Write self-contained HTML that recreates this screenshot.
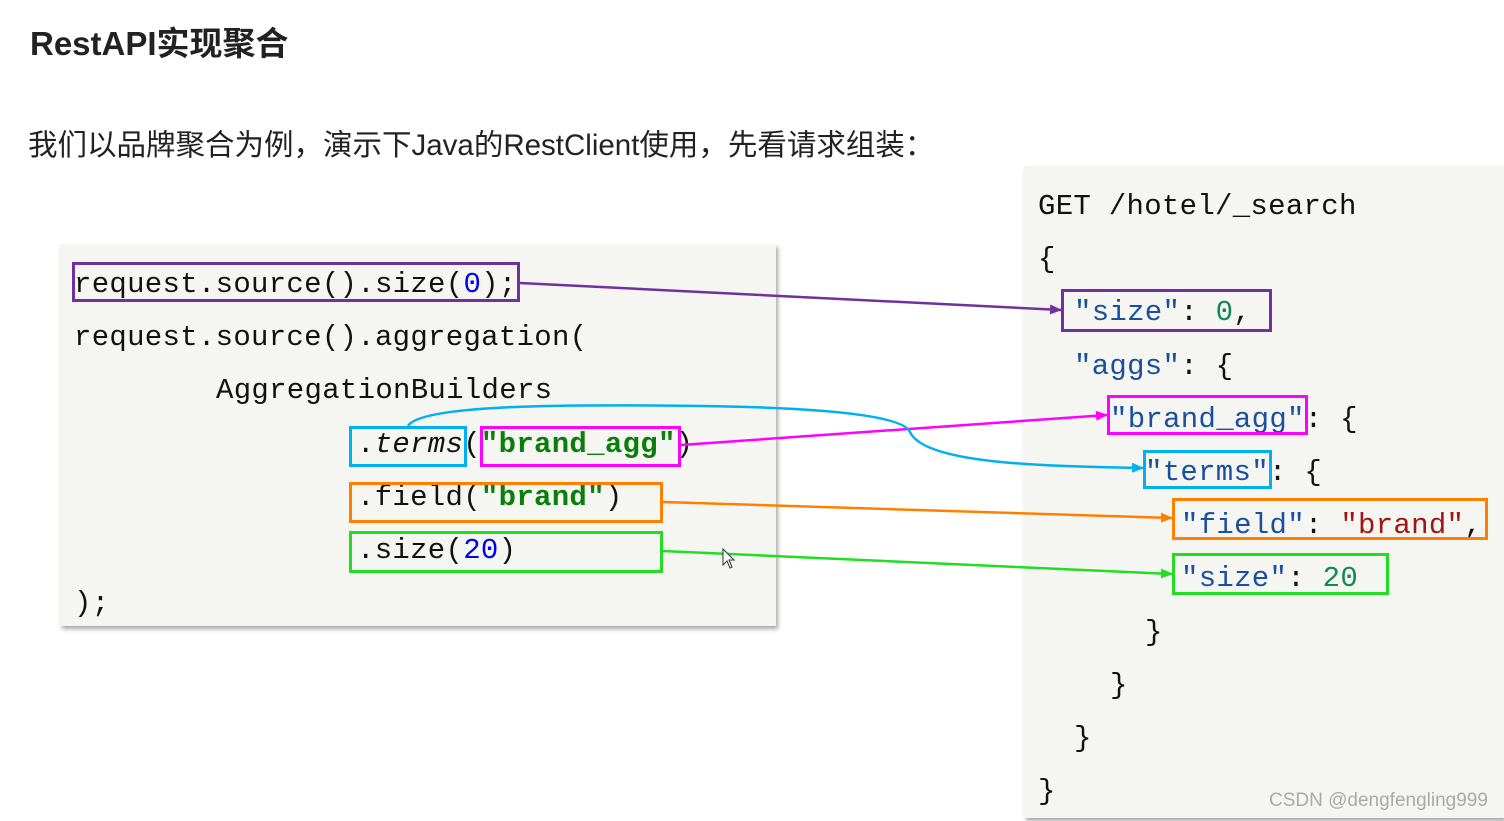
<!DOCTYPE html>
<html><head><meta charset="utf-8"><style>
body{margin:0;width:1504px;height:821px;background:#fff;position:relative;overflow:hidden;font-family:"Liberation Sans","Noto Sans CJK SC",sans-serif}
.t{position:absolute;white-space:pre}
.m{font-family:"Liberation Mono","DejaVu Sans Mono",monospace;font-size:29px;letter-spacing:0.3px;color:#111;position:absolute;white-space:pre;line-height:1}
.panel{position:absolute;background:#f5f6f2;box-shadow:2px 3px 4px rgba(0,0,0,.35)}
.b{position:absolute;border:3px solid;box-sizing:border-box}
.k{color:#1a4fa0}.s{color:#0a7d0a;font-weight:bold}.n{color:#0000ee}.g{color:#118855}.r{color:#a31515}
</style></head><body>
<div class="t" style="left:30px;top:17px;font-size:33px;font-weight:bold;color:#222">RestAPI实现聚合</div>
<div class="t" style="left:28px;top:122px;font-size:29.5px;color:#222">我们以品牌聚合为例，演示下Java的RestClient使用，先看请求组装：</div>
<div class="panel" style="left:60px;top:244px;width:716px;height:382px"></div>
<div class="panel" style="left:1024px;top:166px;width:480px;height:652px"></div>

<div class="m" style="left:74px;top:270px">request.source().size(<span class="n">0</span>);</div>
<div class="m" style="left:74px;top:323px">request.source().aggregation(</div>
<div class="m" style="left:216px;top:376px">AggregationBuilders</div>
<div class="m" style="left:357px;top:430px">.<i>terms</i>(<span class="s">"brand_agg"</span>)</div>
<div class="m" style="left:357px;top:483px">.field(<span class="s">"brand"</span>)</div>
<div class="m" style="left:357px;top:536px">.size(<span class="n">20</span>)</div>
<div class="m" style="left:74px;top:589px">);</div>

<div class="m" style="left:1038px;top:192px">GET /hotel/_search</div>
<div class="m" style="left:1038px;top:245px">{</div>
<div class="m" style="left:1074px;top:298px"><span class="k">"size"</span>: <span class="g">0</span>,</div>
<div class="m" style="left:1074px;top:352px"><span class="k">"aggs"</span>: {</div>
<div class="m" style="left:1110px;top:405px"><span class="k">"brand_agg"</span>: {</div>
<div class="m" style="left:1145px;top:458px"><span class="k">"terms"</span>: {</div>
<div class="m" style="left:1181px;top:511px"><span class="k">"field"</span>: <span class="r">"brand"</span>,</div>
<div class="m" style="left:1181px;top:564px"><span class="k">"size"</span>: <span class="g">20</span></div>
<div class="m" style="left:1145px;top:618px">}</div>
<div class="m" style="left:1110px;top:671px">}</div>
<div class="m" style="left:1074px;top:724px">}</div>
<div class="m" style="left:1038px;top:777px">}</div>
<div class="t" style="left:1269px;top:790px;font-size:19px;color:#aaa">CSDN @dengfengling999</div>

<div class="b" style="left:72px;top:262px;width:448px;height:40px;border-color:#7030a0"></div>
<div class="b" style="left:349px;top:426px;width:118px;height:41px;border-color:#00b0f0"></div>
<div class="b" style="left:480px;top:426px;width:201px;height:41px;border-color:#ff00ff"></div>
<div class="b" style="left:349px;top:482px;width:314px;height:41px;border-color:#ff8000"></div>
<div class="b" style="left:349px;top:531px;width:314px;height:42px;border-color:#22dd22"></div>
<div class="b" style="left:1061px;top:289px;width:211px;height:43px;border-color:#7030a0"></div>
<div class="b" style="left:1107px;top:395px;width:201px;height:40px;border-color:#ff00ff"></div>
<div class="b" style="left:1143px;top:450px;width:129px;height:39px;border-color:#00b0f0"></div>
<div class="b" style="left:1172px;top:498px;width:316px;height:42px;border-color:#ff8000"></div>
<div class="b" style="left:1172px;top:553px;width:217px;height:42px;border-color:#22dd22"></div>

<svg style="position:absolute;left:0;top:0" width="1504" height="821">
<defs>
<marker id="ap" markerWidth="12" markerHeight="10" refX="11" refY="5" orient="auto" markerUnits="userSpaceOnUse"><path d="M0,0L12,5L0,10z" fill="#7030a0"/></marker>
<marker id="am" markerWidth="12" markerHeight="10" refX="11" refY="5" orient="auto" markerUnits="userSpaceOnUse"><path d="M0,0L12,5L0,10z" fill="#ff00ff"/></marker>
<marker id="ac" markerWidth="12" markerHeight="10" refX="11" refY="5" orient="auto" markerUnits="userSpaceOnUse"><path d="M0,0L12,5L0,10z" fill="#00b0f0"/></marker>
<marker id="ao" markerWidth="12" markerHeight="10" refX="11" refY="5" orient="auto" markerUnits="userSpaceOnUse"><path d="M0,0L12,5L0,10z" fill="#ff8000"/></marker>
<marker id="ag" markerWidth="12" markerHeight="10" refX="11" refY="5" orient="auto" markerUnits="userSpaceOnUse"><path d="M0,0L12,5L0,10z" fill="#22dd22"/></marker>
</defs>
<g fill="none" stroke-width="2.5">
<path d="M520,283 L1061,310" stroke="#7030a0" marker-end="url(#ap)"/>
<path d="M681,445 L1107,415" stroke="#ff00ff" marker-end="url(#am)"/>
<path d="M408,426 C420,405 560,404 700,406 C860,408 905,420 910,432 C925,465 1050,466 1143,468" stroke="#00b0f0" marker-end="url(#ac)"/>
<path d="M663,502 L1172,518" stroke="#ff8000" marker-end="url(#ao)"/>
<path d="M663,551 L1172,574" stroke="#22dd22" marker-end="url(#ag)"/>
</g>
<path d="M723,549 L723,565 L727,561 L730,568 L732,567 L729,560 L734,560 Z" fill="#fff" stroke="#333" stroke-width="1"/>
</svg>
</body></html>
